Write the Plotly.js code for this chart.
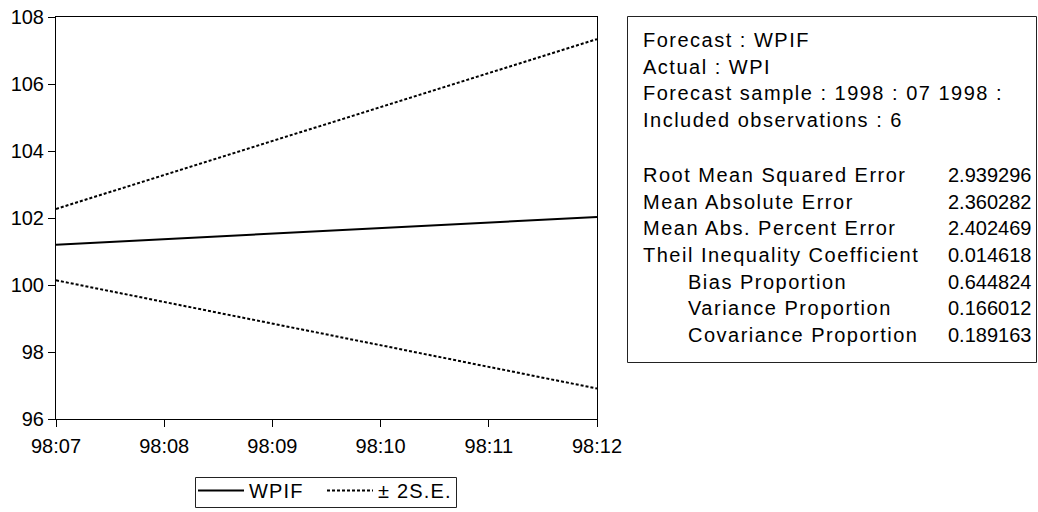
<!DOCTYPE html>
<html>
<head>
<meta charset="utf-8">
<script src="https://cdn.plot.ly/plotly-3.0.1.min.js"></script>
<style>
  html, body { margin: 0; padding: 0; background: #fff; }
  #chart { width: 1038px; height: 512px; }
</style>
</head>
<body>
<div id="chart"></div>
<script>
// ---- data ----
const periods = ['98:07', '98:08', '98:09', '98:10', '98:11', '98:12'];
const wpif    = [101.20, 101.37, 101.53, 101.70, 101.86, 102.03];
const upperSE = [102.27, 103.28, 104.30, 105.31, 106.33, 107.34];
const lowerSE = [100.14, 99.49, 98.85, 98.20, 97.55, 96.91];
const yTicks  = [96, 98, 100, 102, 104, 106, 108];

const headerLines = [
  'Forecast : WPIF',
  'Actual : WPI',
  'Forecast sample : 1998 : 07 1998 :',
  'Included observations : 6'
];
const statLabels = [
  'Root Mean Squared Error',
  'Mean Absolute Error',
  'Mean Abs. Percent Error',
  'Theil Inequality Coefficient',
  'Bias Proportion',
  'Variance Proportion',
  'Covariance Proportion'
];
const statIndent = [false, false, false, false, true, true, true];
const statValues = ['2.939296', '2.360282', '2.402469', '0.014618', '0.644824', '0.166012', '0.189163'];

// ---- layout helpers (pixel -> paper) ----
const W = 1038, H = 512;
const L = 56, R = 597, T = 17, B = 419;
const px = x => (x - L) / (R - L);
const py = y => (B - y) / (B - T);

const FONT = 'Liberation Sans, Arial, sans-serif';

const traces = [
  { x: periods, y: wpif, type: 'scatter', mode: 'lines', name: 'WPIF',
    line: { color: '#000', width: 2 } },
  { x: periods, y: upperSE, type: 'scatter', mode: 'lines', name: '± 2S.E.',
    legendgroup: 'se', line: { color: '#000', width: 2, dash: '3px,2px' } },
  { x: periods, y: lowerSE, type: 'scatter', mode: 'lines', name: '± 2S.E.',
    legendgroup: 'se', showlegend: false, line: { color: '#000', width: 2, dash: '3px,2px' } }
];

const annotations = [];
const headerY = [40, 66.7, 93.3, 120];
headerLines.forEach((t, i) => {
  annotations.push({ xref: 'paper', yref: 'paper', x: px(641), y: py(headerY[i]),
    xanchor: 'left', yanchor: 'middle', align: 'left', showarrow: false, text: t,
    font: { family: FONT, size: 20, color: '#000' } });
});
const statY = [175, 201.7, 228.3, 255, 281.7, 308.3, 334.5];
statLabels.forEach((t, i) => {
  annotations.push({ xref: 'paper', yref: 'paper', x: px(statIndent[i] ? 686 : 641), y: py(statY[i]),
    xanchor: 'left', yanchor: 'middle', align: 'left', showarrow: false, text: t,
    font: { family: FONT, size: 20, color: '#000' } });
});
const nLabelAnn = annotations.length;
statValues.forEach((t, i) => {
  annotations.push({ xref: 'paper', yref: 'paper', x: px(1033), y: py(statY[i]),
    xanchor: 'right', yanchor: 'middle', align: 'right', showarrow: false, text: t,
    font: { family: FONT, size: 20, color: '#000' } });
});

const layout = {
  width: W, height: H,
  margin: { l: L, r: W - R, t: T, b: H - B, pad: 0, autoexpand: false },
  paper_bgcolor: '#fff', plot_bgcolor: '#fff',
  font: { family: FONT, size: 20, color: '#000' },
  showlegend: true,
  legend: {
    orientation: 'h', xref: 'paper', yref: 'paper',
    x: px(193), y: py(471), xanchor: 'left', yanchor: 'top',
    borderwidth: 0, bgcolor: 'rgba(0,0,0,0)',
    font: { family: FONT, size: 20, color: '#000' },
    itemwidth: 46, entrywidth: 68, entrywidthmode: 'pixels', tracegroupgap: 0
  },
  xaxis: {
    type: 'category', range: [0, periods.length - 1],
    showgrid: false, zeroline: false,
    showline: true, linecolor: '#000', linewidth: 1, mirror: true,
    ticks: 'outside', ticklen: 7, tickcolor: '#000', tickwidth: 1,
    ticklabelstandoff: 2,
    tickfont: { family: FONT, size: 20, color: '#000' }
  },
  yaxis: {
    range: [96, 108], tickvals: yTicks, ticktext: yTicks.map(String),
    showgrid: false, zeroline: false,
    showline: true, linecolor: '#000', linewidth: 1, mirror: true,
    ticks: 'outside', ticklen: 7, tickcolor: '#000', tickwidth: 1,
    tickfont: { family: FONT, size: 20, color: '#000' }
  },
  shapes: [
    { type: 'rect', xref: 'paper', yref: 'paper',
      x0: px(627.5), x1: px(1036.5), y0: py(362.5), y1: py(16.5),
      line: { color: '#222', width: 1 }, fillcolor: 'rgba(0,0,0,0)' },
    { type: 'rect', xref: 'paper', yref: 'paper',
      x0: px(195.5), x1: px(456.5), y0: py(507.5), y1: py(477.5),
      line: { color: '#222', width: 1 }, fillcolor: 'rgba(0,0,0,0)' }
  ],
  annotations: annotations
};

Plotly.newPlot('chart', traces, layout, { staticPlot: true, displayModeBar: false }).then(() => {
  // slightly widened letter spacing for the descriptive labels, as in the original
  document.querySelectorAll('#chart .annotation').forEach(g => {
    const idx = +g.getAttribute('data-index');
    if (idx < nLabelAnn) {
      g.querySelectorAll('text').forEach(t => t.style.letterSpacing = '1.5px');
    }
  });
  document.querySelectorAll('#chart .legendtext').forEach(t => t.style.letterSpacing = '1.2px');
});
</script>
</body>
</html>
